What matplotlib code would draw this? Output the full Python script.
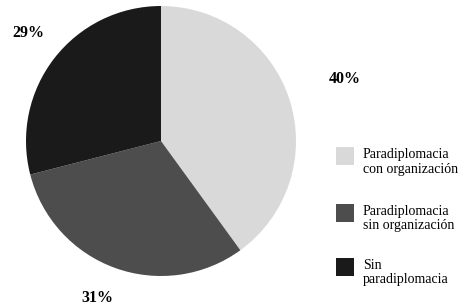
import matplotlib.pyplot as plt
from matplotlib.patches import Rectangle

# shares of each category (percent)
categories = ["Paradiplomacia\ncon organización", "Paradiplomacia\nsin organización", "Sin\nparadiplomacia"]
values = [40, 31, 29]
labels = ["40%", "31%", "29%"]
colors = ["#d9d9d9", "#4d4d4d", "#1a1a1a"]

plt.rcParams['font.family'] = ['Liberation Serif', 'DejaVu Serif']

fig = plt.figure(figsize=(4.66, 3.07), dpi=100)
ax = fig.add_axes([26 / 466, 31 / 307, 270 / 466, 270 / 307])
ax.pie(values, colors=colors, startangle=90, counterclock=False,
       wedgeprops={'linewidth': 0})
ax.set_aspect('equal')
ax.set_xlim(-1, 1)
ax.set_ylim(-1, 1)

# percent labels placed around the pie
label_pos = [(1.36, 0.46), (-0.47, -1.16), (-0.985, 0.80)]
for (x, y), txt in zip(label_pos, labels):
    ax.text(x, y, txt, ha='center', va='center', fontsize=11.5, fontweight='bold',
            clip_on=False)

# legend drawn by hand
patch_top = [147, 204, 258]
for top, col, name in zip(patch_top, colors, categories):
    fig.add_artist(Rectangle((336 / 466, 1 - (top + 18) / 307), 18 / 466, 18 / 307,
                             transform=fig.transFigure, color=col, lw=0))
    fig.text(363 / 466, 1 - (top + 1) / 307, name, ha='left', va='top',
             fontsize=10, linespacing=1.15)

fig.savefig("out.png", dpi=100)
